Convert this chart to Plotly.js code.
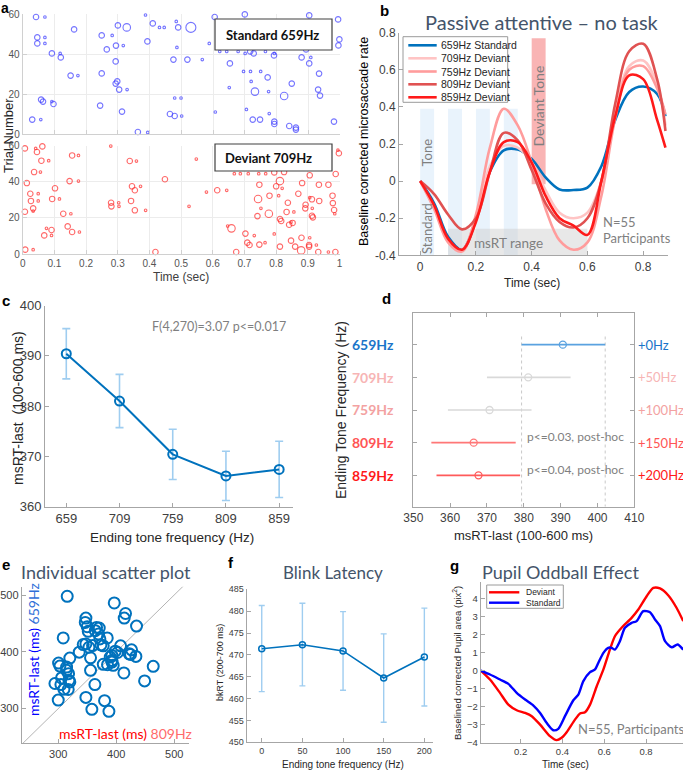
<!DOCTYPE html>
<html><head><meta charset="utf-8">
<script src="https://cdn.plot.ly/plotly-3.0.1.min.js"></script>
<style>body{margin:0;background:#fff}#chart{width:683px;height:770px}</style>
</head><body><div id="chart"></div>
<script>
// ---------------- DATA ----------------
// Panel a: microsaccade raster (time in s, trial number, amplitude code)
const stdTime=[0.042,0.070,0.046,0.070,0.046,0.070,0.092,0.118,0.120,0.162,0.151,0.174,0.030,0.057,0.058,0.064,0.092,0.097,0.249,0.282,0.300,0.328,0.294,0.317,0.265,0.293,0.249,0.298,0.293,0.304,0.329,0.244,0.313,0.363,0.394,0.387,0.410,0.393,0.431,0.446,0.530,0.484,0.490,0.486,0.475,0.519,0.566,0.479,0.499,0.464,0.479,0.501,0.588,0.605,0.607,0.621,0.643,0.679,0.701,0.717,0.728,0.765,0.653,0.700,0.696,0.718,0.750,0.772,0.651,0.720,0.732,0.775,0.705,0.725,0.748,0.777,0.793,0.793,0.792,0.793,0.824,0.848,0.840,0.861,0.861,0.879,0.893,0.903,0.908,0.903,0.934,0.931,0.937,0.994,0.998,0.995,0.981];
const stdTrial=[58.5,58.5,48.3,48.3,45.3,45.3,40.3,40.3,38.3,52.3,29.2,29.2,7.2,7.2,17.2,16.2,16.2,15,49.3,49.3,54.3,53.3,44.2,44.2,42.3,36.3,30.3,26.3,25.2,22.2,22.2,14.2,11.2,1,0.8,59.5,55.3,46.3,53.3,53.3,53.3,56.3,53.3,43.3,37.2,37.2,37.2,18,18,10,9,9,45.3,58.5,11,41.3,41.3,41.3,40.3,41.3,40.3,41.3,35.3,59.8,31.3,31.3,31.3,28.3,23.2,26.3,21.2,21.2,12.3,7.2,7.2,10.2,6.2,5,39.3,40.3,19,25.2,4,3.2,2.2,38.3,42.3,35.3,38.3,59.3,30.2,22.2,19.2,57.3,47.3,44.3,6.2];
const stdAmp=[1,0.3,1,0.3,1,0.3,1,0.3,1,1,1,0.3,1,0.3,1,1,0.3,1,1,0.3,1,1.6,1,0.3,1,1,1,1,1,1,0.3,1,1,1,0.3,0.3,1,1,0.3,0.3,2,0.3,1,0.3,1,1,0.3,0.3,0.3,1,1,0.3,0.3,1,0.3,0.3,0.3,0.3,0.3,1,1,0.3,1,1,0.3,0.3,0.3,1,0.3,0.3,1.6,0.3,0.3,1,1,0.3,1,1,1,0.3,1.6,1,1,1,1,1,1,1,0.3,1,1,1,1,1,1,1,1];
const devTime=[0.007,0.041,0.045,0.062,0.059,0.082,0.036,0.056,0.013,0.024,0.049,0.026,0.049,0.033,0.033,0.007,0.008,0.033,0.068,0.091,0.075,0.091,0.102,0.093,0.116,0.128,0.142,0.156,0.179,0.152,0.148,0.176,0.156,0.176,0.278,0.279,0.280,0.303,0.304,0.338,0.359,0.345,0.354,0.372,0.342,0.354,0.388,0.419,0.449,0.525,0.548,0.580,0.614,0.644,0.647,0.659,0.668,0.687,0.712,0.745,0.767,0.674,0.703,0.709,0.716,0.731,0.741,0.743,0.747,0.747,0.752,0.765,0.777,0.779,0.794,0.800,0.812,0.808,0.812,0.816,0.819,0.825,0.812,0.833,0.837,0.841,0.847,0.852,0.847,0.856,0.860,0.870,0.879,0.880,0.882,0.893,0.892,0.906,0.906,0.913,0.914,0.906,0.904,0.904,0.913,0.916,0.927,0.936,0.933,0.935,0.965,0.978,0.979,0.983,0.985,0.988,0.987,0.965,0.998,0.995,0.794];
const devTrial=[58.5,58.5,56.5,59.6,51.7,51.7,45.4,45.4,39.3,33.4,33.4,29.4,29.4,25.3,23.8,23.4,2.4,2.4,10.3,10.3,14.2,13.3,36.4,30.5,30.5,22.3,15.3,12.2,12.2,22.3,40.4,40.4,54.6,54.6,59.8,28.4,26.4,28.4,26.4,51.5,51.5,37.5,35.3,37.5,29.4,24.2,24.2,1.1,41.4,26.4,52.6,34.3,35.3,35.3,15.5,14.2,44.5,44.5,44.5,44.5,44.5,1.1,11.3,6.3,5,10.2,21,30.5,38.4,5.2,25.3,6.3,22.3,32.3,11.1,37.5,40.4,32.3,19.4,18.3,36.4,45.4,4.1,23.3,28.4,16.2,17.7,17.2,7.4,23.3,4.1,33.4,2,9,39.3,27.3,25.3,43.6,31.2,30.3,25.3,9,5,4.1,21.2,20.3,5,29.4,1.1,38.4,38.4,32.3,28.2,24.4,22.3,44.3,1.1,1.1,55.8,57.5,45.2];
const devAmp=[1,0.3,1,1,1,0.3,1,0.3,1,1,0.3,1,0.3,1,0.3,1,1,0.3,1,0.3,0.3,1,1,1,0.3,1,1,1,0.3,0.3,1,0.3,1,0.3,0.3,1,1,0.3,0.3,1,0.3,1,1,0.3,1,1,0.3,1,1,0.3,0.3,0.3,1,0.3,0.3,1.6,0.3,0.3,0.3,0.3,0.3,1,1,1,1,0.3,1,1.6,1,1,0.3,0.3,1.6,1,0.3,1,1.6,0.3,1,1,0.3,1,1,1,1,1,0.3,1,1,0.3,1,1,1.6,1,1,1,1,1,0.3,1,0.3,0.3,1,1,1,1,0.3,1,1,1,1,1,1,1,0.3,1,1,0.3,1,0.3,1];

// Panel b: baseline corrected microsaccade rate
const bTime=[0,0.05,0.10,0.15,0.20,0.25,0.30,0.35,0.40,0.45,0.50,0.55,0.60,0.65,0.70,0.75,0.80,0.85,0.88];
const b659=[0,-0.12,-0.30,-0.37,-0.21,0.05,0.165,0.17,0.12,0.02,-0.045,-0.048,-0.035,0.08,0.33,0.48,0.51,0.47,0.35];
const b709=[0,-0.14,-0.32,-0.37,-0.20,0.08,0.19,0.18,0.10,-0.05,-0.17,-0.20,-0.17,0.0,0.37,0.62,0.65,0.52,0.30];
const b759=[0,-0.15,-0.33,-0.38,-0.18,0.18,0.39,0.30,0.10,-0.15,-0.32,-0.37,-0.33,-0.08,0.34,0.60,0.62,0.50,0.36];
const b809=[0,-0.07,-0.18,-0.26,-0.20,0.05,0.26,0.22,0.06,-0.12,-0.22,-0.25,-0.20,0.0,0.42,0.70,0.74,0.55,0.27];
const b859=[0,-0.13,-0.31,-0.37,-0.22,0.05,0.21,0.21,0.10,-0.08,-0.20,-0.24,-0.29,0.0,0.35,0.57,0.55,0.33,0.18];
const bNames=['659Hz Standard','709Hz Deviant','759Hz Deviant','809Hz Deviant','859Hz Deviant'];
const toneStarts=[0,0.1,0.2,0.3], deviantStart=0.4, toneDur=0.05, msrtRange=[0.1,0.6];

// Panel c
const freqs=[659,709,759,809,859];
const msrt=[390.4,381.0,370.4,366.1,367.4];
const msrtErr=[5.0,5.3,5.0,4.9,5.6];

// Panel d
const dLabels=['659Hz','709Hz','759Hz','809Hz','859Hz'];
const dShift=['+0Hz','+50Hz','+100Hz','+150Hz','+200Hz'];
const dMean=[390.6,381.2,370.7,366.4,367.7];
const dLow=[379.4,370.0,359.4,354.9,356.3];
const dHigh=[402.1,392.7,382.1,377.8,379.0];
const dNotes=['','','','p<=0.03, post-hoc','p<=0.04, post-hoc'];

// Panel e: individual msRT (809Hz vs 659Hz)
const eX=[315.5,308.6,396.6,416,413.8,435,347.7,346.6,350,351.7,366,370.7,363.8,369.5,384.5,371.8,347.7,343.1,352.9,377.6,373.6,359.2,407.5,426.4,422.4,424.7,433.9,398.3,402.3,392.5,392.5,392.5,389.7,385,394.8,377.6,413.2,463.8,448.9,336.2,320,355.7,300.6,302.9,314.4,355.7,314.4,317.8,305.7,318.4,320,294.3,304.6,363.2,309.8,317.2,300,347.7,379.9,358,387.4];
const eY=[497.7,424.4,486,467.4,459.3,445.3,459.3,451.7,444.2,436,443,441.9,437.2,431.4,424.4,422.7,413.9,412.8,408,410.5,412.2,411,410.5,403.5,396.5,395.3,391.9,401.2,398.8,393.6,384.9,382,390.7,377.3,376.2,377.9,362.8,374.4,348.8,399.4,388.9,389.5,380.2,374.9,373.2,367.4,367.4,361.6,354,350,347.1,344.2,342.4,342.4,334.3,333.7,315.1,319.8,314,298.8,295.3];
const eDiag=[237,526];

// Panel f: blink latency
const fShift=[0,50,100,150,200];
const fMean=[471.4,472.3,470.9,464.7,469.5];
const fLow=[461.6,462.9,461.9,454.6,458.3];
const fHigh=[481.3,481.8,479.9,474.8,480.7];

// Panel g: pupil
const gTimeDev=[0.009,0.053,0.101,0.141,0.181,0.221,0.253,0.293,0.340,0.372,0.396,0.420,0.460,0.484,0.508,0.532,0.564,0.596,0.627,0.651,0.683,0.731,0.763,0.803,0.835,0.867,0.907,0.946,0.978];
const gDev=[0,-0.5,-1.24,-1.89,-2.2,-2.35,-2.53,-3.0,-3.64,-3.86,-3.73,-3.42,-2.72,-2.38,-2.31,-1.89,-0.87,0.06,1.16,1.9,2.37,2.92,3.38,4.12,4.58,4.55,4.16,3.48,2.74];
const gTimeStd=[0.009,0.053,0.101,0.141,0.181,0.221,0.261,0.293,0.324,0.356,0.380,0.412,0.452,0.476,0.500,0.532,0.556,0.572,0.596,0.619,0.635,0.651,0.675,0.699,0.731,0.755,0.787,0.819,0.843,0.867,0.891,0.923,0.951,0.978];
const gStd=[0,-0.22,-0.5,-0.74,-1.24,-1.61,-1.94,-2.35,-2.9,-3.31,-3.23,-2.53,-1.65,-1.33,-0.59,-0.09,0.06,0.43,0.98,1.26,1.26,1.16,1.63,2.37,2.64,2.74,3.29,3.23,2.83,2.46,1.63,1.29,1.44,1.16];

// ---------------- STYLE ----------------
const W=683,H=770;
const PX=x=>x/W, PY=y=>1-y/H;
const ARIAL='Liberation Sans, Arial, sans-serif';
const LATO='Lato, Carlito, sans-serif';
const BLUE='#0072bd', LBLUE='#9fcdf0', GRAY='#7f7f7f', TITLE='#44546a';
const bColors=['#0072bd','#ffc4c4','#ff9c9c','#e05252','#ff1a1a'];
const dColors=['#5aa2e0','#d9d9d9','#d9d9d9','#ff7777','#ff5a5a'];
const dLabelColors=['#1a75c9','#f7b5b5','#f3a2a2','#ff5555','#ff1a1a'];

function ax(d,range,o){
  return Object.assign({domain:d,range:range,showgrid:false,zeroline:false,showline:true,
    linecolor:'#a6a6a6',linewidth:1,ticks:'inside',ticklen:4,tickcolor:'#a6a6a6',
    tickfont:{family:ARIAL,size:11,color:'#404040'},fixedrange:true},o||{});
}
const XD=(a,b)=>[PX(a),Math.min(1,PX(b))], YD=(top,bot)=>[PY(bot),PY(top)];
const ampSize=a=>a<0.5?2.6:(a<1.2?5.5:(a<1.8?7.5:10));

const traces=[];
// a
traces.push({type:'scatter',mode:'markers',x:stdTime,y:stdTrial,xaxis:'x',yaxis:'y',cliponaxis:false,
  marker:{symbol:'circle-open',size:stdAmp.map(ampSize),color:'#3a3aff',line:{width:1.1}},hoverinfo:'none'});
traces.push({type:'scatter',mode:'markers',x:devTime,y:devTrial,xaxis:'x2',yaxis:'y2',cliponaxis:false,
  marker:{symbol:'circle-open',size:devAmp.map(ampSize),color:'#ff2a2a',line:{width:1.1}},hoverinfo:'none'});
// b
[b659,b709,b759,b809,b859].forEach((s,i)=>{
  traces.push({type:'scatter',mode:'lines',x:bTime,y:s,xaxis:'x3',yaxis:'y3',name:bNames[i],
    line:{color:bColors[i],width:2.6,shape:'spline',smoothing:1},hoverinfo:'none'});
});
// c
traces.push({type:'scatter',mode:'lines+markers',x:freqs,y:msrt,xaxis:'x4',yaxis:'y4',
  error_y:{type:'data',array:msrtErr,color:LBLUE,thickness:1.6,width:4},
  line:{color:BLUE,width:2},marker:{symbol:'circle-open',size:9,color:BLUE,line:{width:2}},hoverinfo:'none'});
// d
dMean.forEach((m,i)=>{
  traces.push({type:'scatter',mode:'markers',x:[m],y:[i+1],xaxis:'x5',yaxis:'y5',
    error_x:{type:'data',symmetric:false,array:[dHigh[i]-m],arrayminus:[m-dLow[i]],width:0,thickness:1.6,color:dColors[i]},
    marker:{symbol:'circle-open',size:7,color:dColors[i],line:{width:1.3}},hoverinfo:'none'});
});
// e
traces.push({type:'scatter',mode:'lines',x:eDiag,y:eDiag,xaxis:'x6',yaxis:'y6',line:{color:'#b4b4b4',width:1},hoverinfo:'none'});
traces.push({type:'scatter',mode:'markers',x:eX,y:eY,xaxis:'x6',yaxis:'y6',
  marker:{symbol:'circle-open',size:11,color:BLUE,line:{width:2}},hoverinfo:'none'});
// f
traces.push({type:'scatter',mode:'lines+markers',x:fShift,y:fMean,xaxis:'x7',yaxis:'y7',
  error_y:{type:'data',symmetric:false,array:fHigh.map((h,i)=>h-fMean[i]),arrayminus:fLow.map((l,i)=>fMean[i]-l),color:LBLUE,thickness:1.4,width:3},
  line:{color:BLUE,width:1.6},marker:{symbol:'circle-open',size:6,color:BLUE,line:{width:1.5}},hoverinfo:'none'});
// g
traces.push({type:'scatter',mode:'lines',x:gTimeDev,y:gDev,xaxis:'x8',yaxis:'y8',line:{color:'#ff0000',width:2.4,shape:'spline',smoothing:0.7},hoverinfo:'none'});
traces.push({type:'scatter',mode:'lines',x:gTimeStd,y:gStd,xaxis:'x8',yaxis:'y8',line:{color:'#0000ff',width:2.4,shape:'spline',smoothing:0.7},hoverinfo:'none'});

const tickA=[0,0.1,0.2,0.3,0.4,0.5,0.6,0.7,0.8,0.9,1];
const layout={width:W,height:H,margin:{l:0,r:0,t:0,b:0},paper_bgcolor:'#fff',plot_bgcolor:'rgba(0,0,0,0)',showlegend:false,
  xaxis:ax(XD(22.7,340),[0,1],{anchor:'y',tickvals:tickA,showticklabels:false,showgrid:true,gridcolor:'#ececec',linecolor:'#d0d0d0',tickcolor:'#d0d0d0'}),
  yaxis:ax(YD(14,134),[0,60],{anchor:'x',tickvals:[0,20,40,60],showgrid:true,gridcolor:'#ececec',linecolor:'#d0d0d0',tickcolor:'#d0d0d0',tickfont:{family:ARIAL,size:10,color:'#555'}}),
  xaxis2:ax(XD(22.7,339.5),[0,1],{anchor:'y2',tickvals:tickA,ticktext:tickA.map(String),showgrid:true,gridcolor:'#ececec',linecolor:'#d0d0d0',tickcolor:'#d0d0d0',tickfont:{family:ARIAL,size:10,color:'#555'}}),
  yaxis2:ax(YD(145.7,254),[0,60],{anchor:'x2',tickvals:[0,20,40,60],showgrid:true,gridcolor:'#ececec',linecolor:'#d0d0d0',tickcolor:'#d0d0d0',tickfont:{family:ARIAL,size:10,color:'#555'}}),
  xaxis3:ax(XD(399,667.7),[-0.076,0.888],{anchor:'y3',tickvals:[0,0.2,0.4,0.6,0.8],ticktext:['0','0.2','0.4','0.6','0.8'],tickfont:{family:ARIAL,size:12,color:'#404040'}}),
  yaxis3:ax(YD(32.7,255.3),[-0.4,0.8],{anchor:'x3',tickvals:[-0.4,-0.2,0,0.2,0.4,0.6,0.8],ticktext:['-0.4','-0.2','0','0.2','0.4','0.6','0.8'],tickfont:{family:ARIAL,size:12,color:'#404040'}}),
  xaxis4:ax(XD(45,293),[639,872],{anchor:'y4',tickvals:freqs,tickfont:{family:ARIAL,size:13,color:'#404040'}}),
  yaxis4:ax(YD(305.5,506.6),[360,400],{anchor:'x4',tickvals:[360,370,380,390,400],tickfont:{family:ARIAL,size:13,color:'#404040'}}),
  xaxis5:ax(XD(413.3,634.3),[350,410],{anchor:'y5',tickvals:[350,360,370,380,390,400,410],mirror:'ticks',tickfont:{family:ARIAL,size:12,color:'#404040'}}),
  yaxis5:ax(YD(313.3,506.7),[5.96,0.04],{anchor:'x5',tickvals:[1,2,3,4,5],showticklabels:false,mirror:'ticks'}),
  xaxis6:ax(XD(21.7,189.3),[237,526],{anchor:'y6',tickvals:[300,400,500],tickfont:{family:ARIAL,size:11,color:'#404040'}}),
  yaxis6:ax(YD(586.7,743.3),[239,514.6],{anchor:'x6',tickvals:[300,400,500],tickfont:{family:ARIAL,size:11,color:'#404040'}}),
  xaxis7:ax(XD(246.7,433.3),[-18.5,211],{anchor:'y7',tickvals:fShift,tickfont:{family:ARIAL,size:9,color:'#404040'}}),
  yaxis7:ax(YD(589.3,742.3),[450,485],{anchor:'x7',tickvals:[450,455,460,465,470,475,480,485],tickfont:{family:ARIAL,size:9,color:'#404040'}}),
  xaxis8:ax(XD(480.7,683.3),[0.0086,0.977],{anchor:'y8',tickvals:[0.2,0.4,0.6,0.8],ticktext:['0.2','0.4','0.6','0.8'],tickfont:{family:ARIAL,size:9.5,color:'#404040'}}),
  yaxis8:ax(YD(582.3,742.7),[-4,4.89],{anchor:'x8',tickvals:[-4,-3,-2,-1,0,1,2,3,4],tickfont:{family:ARIAL,size:9.5,color:'#404040'}}),
  shapes:[],annotations:[]
};
const S=layout.shapes, A=layout.annotations;
function T(text,x,y,o){A.push(Object.assign({text:text,x:PX(x),y:PY(y),xref:'paper',yref:'paper',showarrow:false,xanchor:'center',yanchor:'middle',font:{family:ARIAL,size:12,color:'#262626'}},o||{}));}
function box(x0,y0,x1,y1,o){S.push(Object.assign({type:'rect',xref:'paper',yref:'paper',x0:PX(x0),x1:PX(x1),y0:PY(y0),y1:PY(y1),line:{color:'#404040',width:1.2},fillcolor:'#fff',layer:'above'},o||{}));}
function seg(x0,y0,x1,y1,c,w){S.push({type:'line',xref:'paper',yref:'paper',x0:PX(x0),x1:PX(x1),y0:PY(y0),y1:PY(y1),line:{color:c,width:w},layer:'above'});}

// panel letters
[['a',5,8],['b',384,10],['c',6,300],['d',386,298],['e',6,564],['f',231,562],['g',454,565]].forEach(p=>T('<b>'+p[0]+'</b>',p[1],p[2],{font:{family:ARIAL,size:p[0]==='a'?14:15,color:'#000'}}));

// a
box(215,19,332,50); box(215,144,332,171);
T('<b>Standard 659Hz</b>',272,34.5,{font:{family:LATO,size:13,color:'#111'}});
T('<b>Deviant 709Hz</b>',268,158,{font:{family:LATO,size:13,color:'#111'}});
T('Trial Number',8,136,{textangle:-90,font:{family:ARIAL,size:13,color:'#262626'}});
T('Time (sec)',181,277,{font:{family:ARIAL,size:12,color:'#404040'}});

// b bands
toneStarts.forEach(t=>S.push({type:'rect',xref:'x3',yref:'y3',x0:t,x1:t+toneDur,y0:-0.4,y1:0.39,fillcolor:'#e9f3fc',line:{width:0},layer:'below'}));
S.push({type:'rect',xref:'x3',yref:'y3',x0:deviantStart,x1:deviantStart+toneDur,y0:-0.017,y1:0.77,fillcolor:'#f9b4b4',line:{width:0},layer:'below'});
S.push({type:'rect',xref:'x3',yref:'y3',x0:msrtRange[0],x1:msrtRange[1],y0:-0.4,y1:-0.257,fillcolor:'rgba(205,205,205,0.45)',line:{width:0},layer:'below'});
T('Passive attentive – no task',542,22,{font:{family:LATO,size:20,color:TITLE}});
T('Baseline corrected microsaccade rate',364,142,{textangle:-90,font:{family:ARIAL,size:12.5,color:'#000'}});
T('Time (sec)',532,283,{font:{family:ARIAL,size:12,color:'#262626'}});
A.push({text:'Tone',x:0.025,y:0.155,xref:'x3',yref:'y3',showarrow:false,textangle:-90,font:{family:LATO,size:13,color:GRAY}});
A.push({text:'Standard',x:0.025,y:-0.257,xref:'x3',yref:'y3',showarrow:false,textangle:-90,font:{family:LATO,size:13,color:GRAY}});
A.push({text:'Deviant Tone',x:0.425,y:0.405,xref:'x3',yref:'y3',showarrow:false,textangle:-90,font:{family:LATO,size:14,color:GRAY}});
A.push({text:'msRT range',x:0.317,y:-0.333,xref:'x3',yref:'y3',showarrow:false,font:{family:LATO,size:13.5,color:GRAY}});
A.push({text:'N=55',x:0.65,y:-0.218,xref:'x3',yref:'y3',xanchor:'left',showarrow:false,font:{family:LATO,size:13,color:GRAY}});
A.push({text:'Participants',x:0.65,y:-0.308,xref:'x3',yref:'y3',xanchor:'left',showarrow:false,font:{family:LATO,size:13,color:GRAY}});
// b legend (manual)
box(403,36.7,507.7,102.3,{line:{color:'#9a9a9a',width:1}});
const legY=[45.3,58.3,71.5,84.3,97.3];
bNames.forEach((n,i)=>{seg(408.3,legY[i],436.7,legY[i],bColors[i],2.6);T(n,439.5,legY[i],{xanchor:'left',font:{family:ARIAL,size:10.5,color:'#262626'}});});

// c
T('F(4,270)=3.07 p<=0.017',219,326,{font:{family:LATO,size:12.5,color:GRAY}});
T('msRT-last  (100-600 ms)',18,408,{textangle:-90,font:{family:ARIAL,size:14,color:'#262626'}});
T('Ending tone frequency (Hz)',172,537,{font:{family:ARIAL,size:13.5,color:'#262626'}});

// d
S.push({type:'line',xref:'x5',yref:'y5',x0:dLow[0],x1:dLow[0],y0:0.75,y1:5.96,line:{color:'#c8c8c8',width:1,dash:'dot'},layer:'below'});
S.push({type:'line',xref:'x5',yref:'y5',x0:dHigh[0],x1:dHigh[0],y0:0.75,y1:5.96,line:{color:'#c8c8c8',width:1,dash:'dot'},layer:'below'});
dLabels.forEach((l,i)=>{
  A.push({text:'<b>'+l+'</b>',x:PX(396),y:i+1,xref:'paper',yref:'y5',xanchor:'right',showarrow:false,font:{family:LATO,size:14,color:dLabelColors[i]}});
  A.push({text:dShift[i],x:PX(636),y:i+1,xref:'paper',yref:'y5',xanchor:'left',showarrow:false,font:{family:LATO,size:13,color:dLabelColors[i]}});
  if(dNotes[i]) A.push({text:dNotes[i],x:PX(525),y:i+1-0.18,xref:'paper',yref:'y5',xanchor:'left',showarrow:false,font:{family:LATO,size:12,color:GRAY}});
});
T('Ending Tone Frequency (Hz)',341,410,{textangle:-90,font:{family:ARIAL,size:14,color:'#262626'}});
T('msRT-last (100-600 ms)',523,535,{font:{family:ARIAL,size:13,color:'#262626'}});

// e
T('Individual scatter plot',106,572,{font:{family:LATO,size:18,color:TITLE}});
T('msRT-last (ms) <span style="color:#2f6fd8">659Hz</span>',33,650,{textangle:-90,font:{family:LATO,size:14,color:'#0000ff'}});
T('msRT-last (ms) <span style="color:#ff6b6b">809Hz</span>',125.5,733,{font:{family:LATO,size:14,color:'#ff0000'}});

// f
T('Blink Latency',333,572,{font:{family:LATO,size:17,color:TITLE}});
T('bkRT (200-700 ms)',220,663,{textangle:-90,font:{family:ARIAL,size:9,color:'#262626'}});
T('Ending tone frequency (Hz)',343,764,{font:{family:ARIAL,size:10,color:'#262626'}});

// g
T('Pupil Oddball Effect',560,572,{font:{family:LATO,size:18,color:TITLE}});
T('Baselined corrected Pupil area (pix<sup>2</sup>)',457,663,{textangle:-90,font:{family:ARIAL,size:9.5,color:'#262626'}});
T('Time (sec)',565,764,{font:{family:ARIAL,size:10,color:'#262626'}});
T('N=55, Participants',631,729,{font:{family:LATO,size:13,color:GRAY}});
box(486.7,585,563.3,608.3,{line:{color:'#9a9a9a',width:1}});
seg(489,592.3,519.3,592.3,'#ff0000',2.4); T('Deviant',524,592.3,{xanchor:'left',font:{family:ARIAL,size:8.5,color:'#262626'}});
seg(489,602.7,519.3,602.7,'#0000ff',2.4); T('Standard',524,602.7,{xanchor:'left',font:{family:ARIAL,size:8.5,color:'#262626'}});

Plotly.newPlot('chart',traces,layout,{staticPlot:true,displayModeBar:false});
</script></body></html>
